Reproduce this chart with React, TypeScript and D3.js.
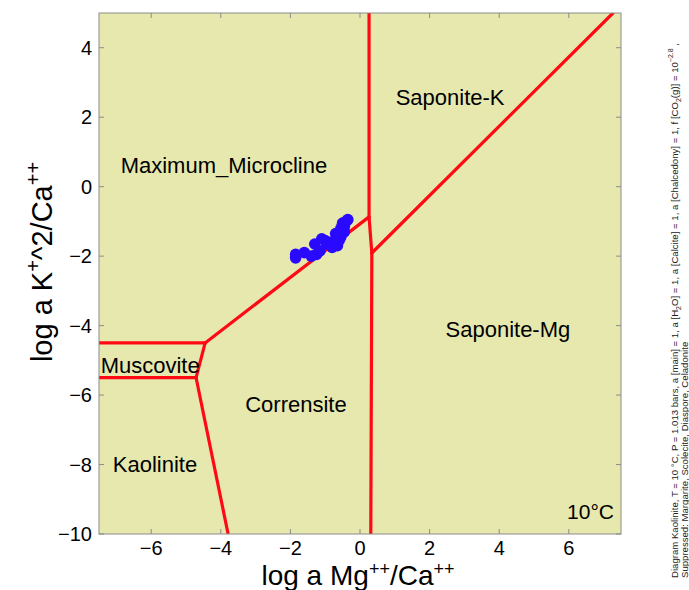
import React from "react";
import * as d3 from "d3";

// Stability field boundaries, in log activity-ratio units: [x, y] vertices of each segment
const boundaryMicroclineSaponite: [number, number][] = [[0.26, 5], [0.26, -0.87]];
const boundaryTriple: [number, number][] = [[0.26, -0.87], [0.34, -1.91]];
const boundaryCorrensiteSaponite: [number, number][] = [[0.34, -1.91], [0.31, -10]];
const boundarySaponiteKMg: [number, number][] = [[0.34, -1.91], [7.27, 5]];
const boundaryMicroclineCorrensite: [number, number][] = [[0.26, -0.87], [-4.45, -4.5]];
const boundaryMicroclineMuscovite: [number, number][] = [[-4.45, -4.5], [-7.5, -4.5]];
const boundaryMuscoviteCorrensite: [number, number][] = [[-4.45, -4.5], [-4.71, -5.5]];
const boundaryMuscoviteKaolinite: [number, number][] = [[-4.71, -5.5], [-7.5, -5.5]];
const boundaryKaoliniteCorrensite: [number, number][] = [[-4.71, -5.5], [-3.79, -10]];

const boundaries = [
  boundaryMicroclineSaponite,
  boundaryTriple,
  boundaryCorrensiteSaponite,
  boundarySaponiteKMg,
  boundaryMicroclineCorrensite,
  boundaryMicroclineMuscovite,
  boundaryMuscoviteCorrensite,
  boundaryMuscoviteKaolinite,
  boundaryKaoliniteCorrensite,
];

// Sample compositions
const sampleMg = [-1.85, -1.85, -1.6, -1.3, -1.25, -1.15, -1.0, -0.95, -0.85, -0.8, -0.65, -0.55, -0.55, -0.5, -0.4, -0.35, -0.45, -0.6, -1.1, -1.4, -0.45, -0.7];
const sampleK = [-2.05, -1.95, -1.9, -1.65, -1.95, -1.85, -1.55, -1.65, -1.6, -1.75, -1.7, -1.45, -1.2, -1.05, -1.0, -0.95, -1.3, -1.55, -1.5, -2.0, -1.15, -1.35];

const xTicks = [-6, -4, -2, 0, 2, 4, 6];
const yTicks = [-10, -8, -6, -4, -2, 0, 2, 4];

const fieldNames = ["Maximum_Microcline", "Saponite-K", "Saponite-Mg", "Muscovite", "Corrensite", "Kaolinite"];
const fieldX = [-3.91, 2.59, 4.25, -6.03, -1.84, -5.89];
const fieldY = [0.39, 2.35, -4.33, -5.36, -6.49, -8.21];

const W = 689;
const H = 590;
const left = 99;
const right = 621;
const top = 13;
const bottom = 534;

const FONT = "Liberation Sans, Arial, sans-serif";

export default function App() {
  const x = d3.scaleLinear().domain([-7.5, 7.5]).range([left, right]);
  const y = d3.scaleLinear().domain([-10, 5]).range([bottom, top]);
  const line = d3
    .line<[number, number]>()
    .x((d) => x(d[0]))
    .y((d) => y(d[1]));

  const tickLen = 5;
  const tickColor = "#8c8c8c";

  return (
    <svg
      width={W}
      height={H}
      style={{ position: "absolute", left: 0, top: 0, background: "#fff" }}
      fontFamily={FONT}
    >
      <defs>
        <clipPath id="plotClip">
          <rect x={left} y={top} width={right - left} height={bottom - top} />
        </clipPath>
      </defs>
      <rect x={left} y={top} width={right - left} height={bottom - top} fill="#e6e8ae" />

      {/* ticks on all four sides, pointing inward */}
      {xTicks.map((t) => (
        <g key={"xt" + t} stroke={tickColor} strokeWidth={1}>
          <line x1={x(t)} x2={x(t)} y1={bottom} y2={bottom - tickLen} />
          <line x1={x(t)} x2={x(t)} y1={top} y2={top + tickLen} />
        </g>
      ))}
      {yTicks.map((t) => (
        <g key={"yt" + t} stroke={tickColor} strokeWidth={1}>
          <line x1={left} x2={left + tickLen} y1={y(t)} y2={y(t)} />
          <line x1={right} x2={right - tickLen} y1={y(t)} y2={y(t)} />
        </g>
      ))}

      <g clipPath="url(#plotClip)">
        {boundaries.map((b, i) => (
          <path
            key={i}
            d={line(b) || ""}
            fill="none"
            stroke="#ff0a14"
            strokeWidth={3.2}
            strokeLinejoin="round"
            strokeLinecap="round"
          />
        ))}
        {sampleMg.map((v, i) => (
          <circle key={i} cx={x(v)} cy={y(sampleK[i])} r={5.8} fill="#2a0aff" />
        ))}
      </g>

      <rect
        x={left}
        y={top}
        width={right - left}
        height={bottom - top}
        fill="none"
        stroke="#8c8c8c"
        strokeWidth={1}
      />

      {fieldNames.map((n, i) => (
        <text key={n} x={x(fieldX[i])} y={y(fieldY[i])} fontSize={22} textAnchor="middle" fill="#000">
          {n}
        </text>
      ))}
      <text x={614} y={519} fontSize={21} textAnchor="end" fill="#000">
        10°C
      </text>

      {xTicks.map((t) => (
        <text key={"xl" + t} x={x(t)} y={555} fontSize={20} textAnchor="middle" fill="#000">
          {t < 0 ? "\u2212" + Math.abs(t) : String(t)}
        </text>
      ))}
      {yTicks.map((t) => (
        <text key={"yl" + t} x={92} y={y(t) + 7} fontSize={20} textAnchor="end" fill="#000">
          {t < 0 ? "\u2212" + Math.abs(t) : String(t)}
        </text>
      ))}

      <text x={358} y={585} fontSize={28} textAnchor="middle" fill="#000">
        log a Mg
        <tspan fontSize={18} dy={-10}>++</tspan>
        <tspan dy={10}>/Ca</tspan>
        <tspan fontSize={18} dy={-10}>++</tspan>
      </text>

      <text
        transform="translate(52,262) rotate(-90)"
        fontSize={29}
        textAnchor="middle"
        fill="#000"
      >
        log a K
        <tspan fontSize={20} dy={-12}>+</tspan>
        <tspan dy={12}>^2/Ca</tspan>
        <tspan fontSize={20} dy={-12}>++</tspan>
      </text>

      <g fontSize={9.6} fill="#222">
        <text transform="translate(678,578) rotate(-90)">
          Diagram Kaolinite,  T  =  10 °C,  P  =  1.013 bars,  a [main]  =  1,  a [H
          <tspan fontSize={7} dy={2.5}>2</tspan>
          <tspan dy={-2.5}>O]  =  1,  a [Calcite]  =  1,  a [Chalcedony]  =  1,  f [CO</tspan>
          <tspan fontSize={7} dy={2.5}>2</tspan>
          <tspan dy={-2.5}>(g)]  =  10</tspan>
          <tspan fontSize={7} dy={-5}>−2.8</tspan>
          <tspan dy={5}> ,</tspan>
        </text>
        <text transform="translate(688,578) rotate(-90)">
          Suppressed: Margarite, Scolecite, Diaspore, Celadonite
        </text>
      </g>
    </svg>
  );
}
